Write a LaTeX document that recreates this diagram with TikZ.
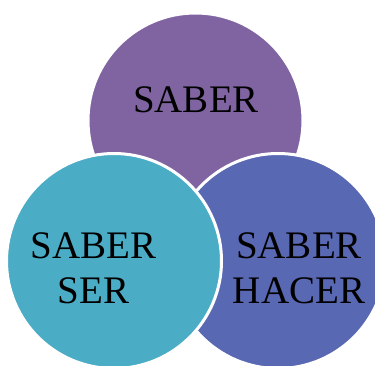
\documentclass[tikz,border=0pt]{standalone}
\usepackage{fontspec}
\setmainfont{Liberation Serif}
\definecolor{saberpurple}{RGB}{128,100,162}
\definecolor{saberteal}{RGB}{75,172,198}
\definecolor{saberblue}{RGB}{89,104,178}
\newcommand{\wordsize}{\fontsize{39}{45}\selectfont}

\begin{document}
\begin{tikzpicture}[x=1pt,y=1pt,
   ball/.style={circle,draw=white,line width=3pt,inner sep=0pt,minimum size=215pt},
   word/.style={align=center,font=\wordsize,inner sep=0pt}]
   \useasboundingbox (0,0) rectangle (375,365);
   \clip (0,0) rectangle (375,365);
   \node[ball,fill=saberpurple] (saber) at (195.5,244.5) {};
   \node[ball,fill=saberblue] (hacer) at (278,104) {};
   \node[ball,fill=saberteal] (ser) at (114,104) {};
   \node[word,anchor=base] (tsaber) at (196,252) {SABER};
   \node[word] (tser) at (93.5,96.5) {SABER\\SER};
   \node[word] (thacer) at (299,96.5) {SABER\\HACER};
\end{tikzpicture}
\end{document}
